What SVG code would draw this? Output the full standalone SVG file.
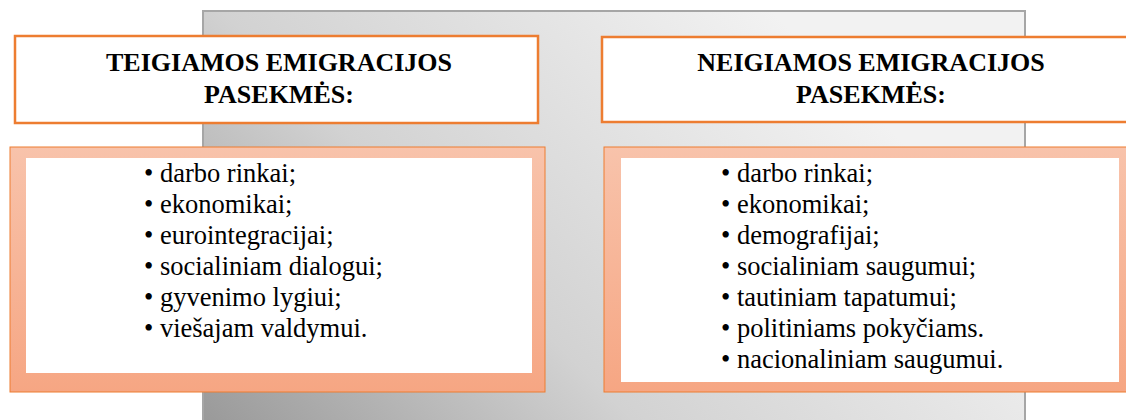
<svg xmlns="http://www.w3.org/2000/svg" width="1126" height="420" viewBox="0 0 1126 420">
<defs>
<linearGradient id="bg" gradientUnits="userSpaceOnUse" x1="203" y1="440" x2="700" y2="-60">
<stop offset="0" stop-color="#979797"/>
<stop offset="0.45" stop-color="#d2d2d2"/>
<stop offset="1" stop-color="#f2f2f2"/>
</linearGradient>
<linearGradient id="peach" x1="0" y1="0" x2="0" y2="1">
<stop offset="0" stop-color="#f8c3ab"/>
<stop offset="1" stop-color="#f6a683"/>
</linearGradient>
<style>
.hdr{fill:#ffffff;stroke:#ed7d31;stroke-width:2.5}
.body{fill:url(#peach);stroke:#ed7d31;stroke-width:1}
.inner{fill:#ffffff}
.ht{font-family:'Liberation Serif','DejaVu Serif',serif;font-weight:bold;font-size:26px;fill:#000;text-anchor:middle}
.bt{font-family:'Liberation Serif','DejaVu Serif',serif;font-size:26.5px;fill:#000}
</style>
</defs>
<g id="background">
<rect x="203" y="11" width="822" height="420" fill="url(#bg)" stroke="#a6a6a6" stroke-width="2"/>
</g>
<g id="connectors"></g>
<g id="pos-header">
<rect class="hdr" x="15" y="36" width="523" height="87"/>
<text class="ht" x="279" y="71">TEIGIAMOS EMIGRACIJOS</text>
<text class="ht" x="279" y="103">PASEKMĖS:</text>
</g>
<g id="neg-header">
<rect class="hdr" x="602" y="37" width="540" height="85"/>
<text class="ht" x="871" y="71">NEIGIAMOS EMIGRACIJOS</text>
<text class="ht" x="871" y="103">PASEKMĖS:</text>
</g>
<g id="pos-list">
<rect class="body" x="10" y="147" width="535" height="245"/>
<rect class="inner" x="26" y="158" width="506" height="215"/>
<text class="bt" x="144" y="182">• darbo rinkai;</text>
<text class="bt" x="144" y="213">• ekonomikai;</text>
<text class="bt" x="144" y="244">• eurointegracijai;</text>
<text class="bt" x="144" y="275">• socialiniam dialogui;</text>
<text class="bt" x="144" y="306">• gyvenimo lygiui;</text>
<text class="bt" x="144" y="337">• viešajam valdymui.</text>
</g>
<g id="neg-list">
<rect class="body" x="604" y="147" width="540" height="245"/>
<rect class="inner" x="621" y="158" width="498" height="224"/>
<text class="bt" x="721" y="182">• darbo rinkai;</text>
<text class="bt" x="721" y="213">• ekonomikai;</text>
<text class="bt" x="721" y="244">• demografijai;</text>
<text class="bt" x="721" y="275">• socialiniam saugumui;</text>
<text class="bt" x="721" y="306">• tautiniam tapatumui;</text>
<text class="bt" x="721" y="337">• politiniams pokyčiams.</text>
<text class="bt" x="721" y="368">• nacionaliniam saugumui.</text>
</g>
</svg>
